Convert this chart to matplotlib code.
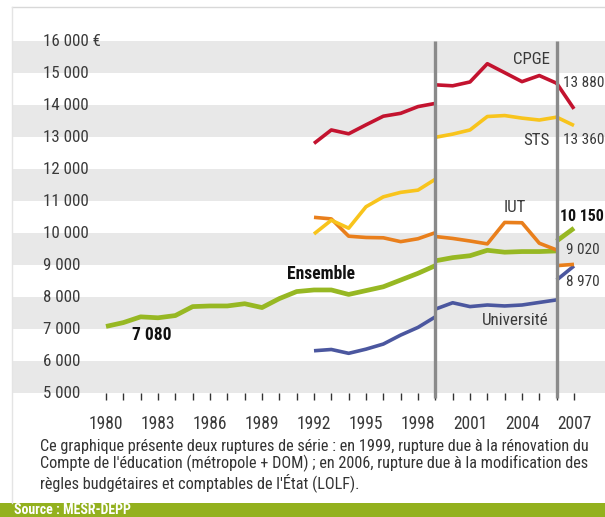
import numpy as np
import matplotlib
matplotlib.use('Agg')
import matplotlib.pyplot as plt
from matplotlib import font_manager as fm
from matplotlib.patches import Rectangle

# --- data (euros per student) ---
years_old = list(range(1992, 2000))
years_mid = list(range(1999, 2007))
years_new = [2006, 2007]
years_ens_old = list(range(1980, 2000))

ensemble_old = [7080, 7200, 7380, 7350, 7420, 7700, 7720, 7720, 7790, 7670,
                7950, 8170, 8220, 8220, 8080, 8200, 8320, 8530, 8740, 8980]
ensemble_mid = [9130, 9230, 9290, 9460, 9400, 9420, 9420, 9440]
ensemble_new = [9750, 10150]

cpge_old = [12800, 13220, 13100, 13380, 13650, 13740, 13950, 14050]
cpge_mid = [14630, 14600, 14720, 15290, 15010, 14730, 14920, 14680]
cpge_new = [14680, 13880]

sts_old = [9970, 10400, 10150, 10820, 11130, 11270, 11340, 11680]
sts_mid = [12990, 13090, 13220, 13640, 13670, 13590, 13530, 13620]
sts_new = [13620, 13360]

iut_old = [10490, 10440, 9900, 9860, 9850, 9730, 9820, 10010]
iut_mid = [9890, 9830, 9750, 9660, 10330, 10320, 9680, 9470]
iut_new = [8980, 9020]

univ_old = [6320, 6360, 6240, 6370, 6530, 6810, 7050, 7380]
univ_mid = [7620, 7820, 7700, 7750, 7720, 7750, 7830, 7910]
univ_new = [8530, 8970]

y_ticks = [5000, 6000, 7000, 8000, 9000, 10000, 11000, 12000, 13000, 14000, 15000, 16000]
y_tick_labels = ['5 000', '6 000', '7 000', '8 000', '9 000', '10 000', '11 000',
                 '12 000', '13 000', '14 000', '15 000', '16 000 €']
x_label_years = list(range(1980, 2008, 3))
breaks = [1999, 2006]

caption = ("Ce graphique présente deux ruptures de série : en 1999, rupture due à la rénovation du\n"
           "Compte de l'éducation (métropole + DOM) ; en 2006, rupture due à la modification des\n"
           "règles budgétaires et comptables de l'État (LOLF).")

# pick a narrow sans if one is installed, else squeeze a regular one
fonts = fm.fontManager.ttflist
names = {f.name for f in fonts}
stretch = 'normal'
if 'Liberation Sans Narrow' in names:
    family, k = 'Liberation Sans Narrow', 1.0
elif 'Roboto Condensed' in names:
    family, k = 'Roboto Condensed', 0.95
elif any(f.name == 'DejaVu Sans' and 'Condensed' in f.fname for f in fonts):
    family, k, stretch = 'DejaVu Sans', 0.85, 'condensed'
else:
    family, k = 'Liberation Sans', 0.84
plt.rcParams['font.family'] = [family, 'DejaVu Sans']
plt.rcParams['font.stretch'] = stretch

def fs(x):
    return x * k

# colours
c_cpge = '#c3132f'
c_sts = '#f8c41c'
c_iut = '#e97f1c'
c_ens = '#97b823'
c_univ = '#4b579f'
c_band = '#e8e8e8'
c_text = '#3a3a3a'

W, H = 605, 517
fig = plt.figure(figsize=(W / 100, H / 100), dpi=100)
fig.patch.set_facecolor('white')

# plot area in pixels
ax_l, ax_r, ax_top, ax_bot = 12, 605, 41, 393
ax = fig.add_axes([ax_l / W, (H - ax_bot) / H, (ax_r - ax_l) / W, (ax_bot - ax_top) / H])
px_per_year = 17.333
x0 = 1980 - (106 - ax_l) / px_per_year
x1 = 1980 + (ax_r - 106) / px_per_year
ax.set_xlim(x0, x1)
ax.set_ylim(5000, 16000)
for s in ax.spines.values():
    s.set_visible(False)
ax.set_facecolor('white')

# alternating bands
for lo in range(5000, 16000, 2000):
    ax.axhspan(lo, lo + 1000, color=c_band, lw=0, zorder=0)

# y labels
xlab = x0 + (43 - ax_l) / px_per_year
for v, t in zip(y_ticks, y_tick_labels):
    ax.text(xlab, v, t, ha='left', va='center', fontsize=fs(12.8), color=c_text)
ax.set_yticks([])

# x ticks
ax.set_xticks(range(1980, 2008), minor=True)
ax.set_xticks(x_label_years)
ax.set_xticklabels([str(y) for y in x_label_years], fontsize=fs(13.3), color=c_text)
ax.tick_params(axis='x', which='both', direction='out', length=5, width=1,
               color='#333333', pad=11)

# break lines
for b in breaks:
    ax.plot([b, b], [4830, 16000], color='#8a8a8a', lw=2.4, zorder=5,
            clip_on=False, solid_capstyle='butt')

def draw(xs, ys, col, lw):
    ax.plot(xs, ys, color=col, lw=lw, zorder=3, solid_joinstyle='round',
            solid_capstyle='butt')

for col, lw, segs in [
    (c_univ, 2.6, [(years_old, univ_old), (years_mid, univ_mid), (years_new, univ_new)]),
    (c_ens, 3.4, [(years_ens_old, ensemble_old), (years_mid, ensemble_mid), (years_new, ensemble_new)]),
    (c_iut, 2.6, [(years_old, iut_old), (years_mid, iut_mid), (years_new, iut_new)]),
    (c_sts, 2.6, [(years_old, sts_old), (years_mid, sts_mid), (years_new, sts_new)]),
    (c_cpge, 2.6, [(years_old, cpge_old), (years_mid, cpge_mid), (years_new, cpge_new)]),
]:
    for xs, ys in segs:
        draw(xs, ys, col, lw)

# series labels
x_right = 1980 + (604 - 106) / px_per_year
lab = dict(fontsize=fs(12.8), color=c_text, zorder=6)
end_lab = dict(fontsize=fs(11.6), color=c_text, zorder=6)
bold = dict(fontsize=fs(13.3), fontweight='bold', color='#111111', zorder=6)
ax.text(2005.6, 15430, 'CPGE', ha='right', va='center', **lab)
ax.text(x_right, 14700, '13 880', ha='right', va='center', **end_lab)
ax.text(2005.6, 12900, 'STS', ha='right', va='center', **lab)
ax.text(x_right, 12900, '13 360', ha='right', va='center', **end_lab)
ax.text(2003.6, 10810, 'IUT', ha='center', va='center', **lab)
ax.text(x_right, 10530, '10 150', ha='right', va='center', fontsize=fs(12),
        fontweight='bold', color='#111111', zorder=6)
ax.text(2006.55, 9470, '9 020', ha='left', va='center', **end_lab)
ax.text(2006.55, 8470, '8 970', ha='left', va='center', **end_lab)
ax.text(2003.6, 7280, 'Université', ha='center', va='center', **lab)
ax.text(1990.45, 8720, 'Ensemble', ha='left', va='center', **bold)
ax.text(1981.5, 6810, '7 080', ha='left', va='center', **bold)

# caption
fig.text(40 / W, 1 - 439 / H, caption, ha='left', va='top', fontsize=fs(12.3),
         color='#333333', linespacing=1.06)

# source bar
fig.patches.append(Rectangle((0, 0), 1, (H - 503) / H, transform=fig.transFigure,
                             color='#93b11e', lw=0, zorder=0))
fig.text(14 / W, 1 - 510 / H, 'Source : MESR-DEPP', ha='left', va='center',
         fontsize=fs(10.5), fontweight='bold', color='white')

# thin frame
fig.add_artist(plt.Line2D([12 / W, 1], [1 - 7 / H, 1 - 7 / H], color='#d8d8d8', lw=1,
                          transform=fig.transFigure))
fig.add_artist(plt.Line2D([12 / W, 12 / W], [1 - 7 / H, (H - 503) / H], color='#e4e4e4',
                          lw=1, transform=fig.transFigure))

fig.savefig('out.png', dpi=100)
